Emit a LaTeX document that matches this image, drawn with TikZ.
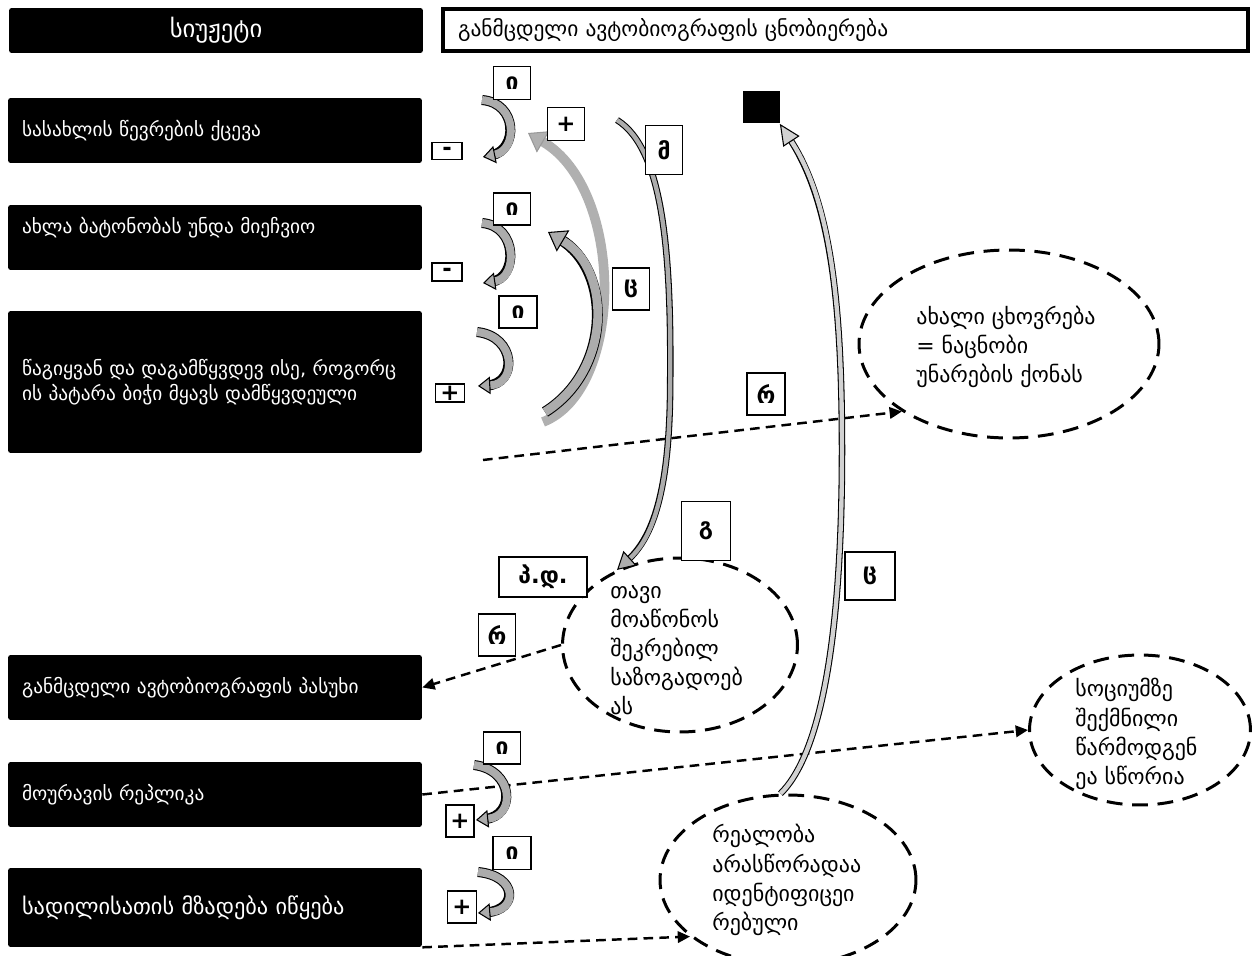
\documentclass[tikz,border=0pt]{standalone}
\usepackage{fontspec}
\setmainfont{DejaVu Sans}
\usetikzlibrary{arrows.meta,shapes.geometric}

\begin{document}
\begin{tikzpicture}[x=0.02cm, y=-0.02cm,
  scene/.style={fill=black, text=white, rounded corners=1.5pt, minimum width=8.28cm, minimum height=1.3cm,
    text width=7.72cm, inner xsep=0.28cm, align=left, font=\fontsize{11}{14.2}\selectfont},
  tag/.style={draw, fill=white, line width=0.9pt, inner sep=0pt, minimum width=0.74cm, minimum height=0.66cm,
    font=\fontsize{13}{13}\selectfont\bfseries},
  cloud/.style={ellipse, draw, line width=1.7pt, dash pattern=on 9pt off 5.5pt, inner sep=0pt},
  cloudtext/.style={inner sep=0pt, align=left, anchor=west, font=\fontsize{12.5}{16.6}\selectfont},
  link/.style={line width=1.4pt, dash pattern=on 5.5pt off 3.5pt, -{Triangle[length=7pt,width=6.5pt]}},
  barrow/.style n args={4}{line cap=butt, draw=#1, line width=#2,
    preaction={draw=black, line width=#2+1.2pt, -, shorten >=#3-2pt},
    -{Triangle[length=#3, width=#4, fill=#1, color=black, line width=0.6pt]}},
  uturn/.style={barrow={gray!65}{4.5pt}{7pt}{10pt}},
]
\useasboundingbox (0,0) rectangle (1259,956);

\node[scene, align=center, minimum height=0.9cm, font=\fontsize{14}{16}\selectfont] (plot) at (216,30.5) {სიუჟეტი};
\node[draw, line width=2.2pt, minimum height=0.84cm, text width=15.5cm, inner xsep=0.3cm, align=left,
  font=\fontsize{12.2}{14}\selectfont] (mind) at (845.5,30) {განმცდელი ავტობიოგრაფის ცნობიერება};

\node[scene] (s1) at (215,130.5) {სასახლის წევრების ქცევა};
\node[scene, text depth=0.5cm] (s2) at (215,237.5) {ახლა ბატონობას უნდა მიეჩვიო};
\node[scene, minimum height=2.84cm] (s3) at (215,382) {წაგიყვან და დაგამწყვდევ ისე, როგორც\\ის პატარა ბიჭი მყავს დამწყვდეული};
\node[scene] (s4) at (215,687.5) {განმცდელი ავტობიოგრაფის პასუხი};
\node[scene] (s5) at (215,794.5) {მოურავის რეპლიკა};
\node[scene, minimum height=1.58cm, font=\fontsize{12.7}{14}\selectfont] (s6) at (215,907.5) {სადილისათის მზადება იწყება};

\node[cloud, minimum width=6cm, minimum height=3.76cm] (e1) at (1009,344) {};
\node[cloudtext] (e1t) at (916,347) {ახალი ცხოვრება\\= ნაცნობი\\უნარების ქონას};
\node[cloud, minimum width=4.7cm, minimum height=3.48cm] (e2) at (680,645) {};
\node[cloudtext] (e2t) at (610,650) {თავი\\მოაწონოს\\შეკრებილ\\საზოგადოებ\\ას};
\node[cloud, minimum width=4.42cm, minimum height=3cm] (e3) at (1140,730) {};
\node[cloudtext] (e3t) at (1075,734) {სოციუმზე\\შექმნილი\\წარმოდგენ\\ეა სწორია};
\node[cloud, minimum width=5.12cm, minimum height=3.4cm] (e4) at (788,880) {};
\node[cloudtext] (e4t) at (712,880) {რეალობა\\არასწორადაა\\იდენტიფიცეი\\რებული};

\coordinate (d1s) at (483,460);
\coordinate (mstart) at (617,120);
\draw[link] (d1s) -- (e1.south west);
\draw[link] (e2.west) -- (s4.east);
\draw[link] (s5.east) -- (e3.west);
\draw[link] (s6.south east) -- (e4.210);

\draw[uturn] (482,100) .. controls (518,103) and (518,150) .. (483,157);
\draw[uturn] (482,223) .. controls (518,226) and (518,278) .. (483,283);
\draw[uturn] (477,332) .. controls (516,336) and (518,384) .. (478,386);
\draw[uturn] (474,765) .. controls (514,770) and (516,816) .. (476,820);
\draw[uturn] (478,872) .. controls (518,876) and (518,910) .. (478,913);

\draw[line cap=butt, line width=5.5pt, draw=gray!62, -{Triangle[length=10pt, width=14pt, fill=gray!62, color=gray!80, line width=0.6pt]}]
  (543,422) .. controls (625,390) and (625,190) .. (528,133);
\draw[barrow={gray!65}{5pt}{10pt}{14pt}] (545,412) .. controls (612,370) and (612,270) .. (548,232);
\draw[barrow={gray!65}{2.5pt}{10pt}{11pt}] (mstart) .. controls (665,150) and (672,260) .. (670,400)
  .. controls (668,500) and (650,540) .. (e2.130);

\node[fill=black, minimum width=0.74cm, minimum height=0.66cm] (blk) at (761,107) {};
\draw[barrow={gray!35}{2.5pt}{12pt}{11pt}] (e4.95) .. controls (835,740) and (842,560) .. (842,450)
  .. controls (842,300) and (830,200) .. (blk.south east);

\node[tag] (i1) at (512,83) {ი};
\node[tag] (p1) at (566,124) {+};
\node[tag, minimum width=0.6cm, minimum height=0.34cm] (n1) at (447,151) {-};
\node[tag, minimum height=0.98cm] (m) at (664,150) {მ};
\node[tag, minimum height=0.64cm] (i2) at (512,209) {ი};
\node[tag, minimum width=0.6cm, minimum height=0.36cm] (n2) at (447,272) {-};
\node[tag, minimum height=0.84cm] (c1) at (631,289) {ც};
\node[tag, minimum width=0.76cm, minimum height=0.64cm] (i3) at (518,312) {ი};
\node[tag, minimum width=0.58cm, minimum height=0.36cm] (p3) at (450,393) {+};
\node[tag, minimum width=0.76cm, minimum height=0.84cm] (r1) at (766,394) {რ};
\node[tag, minimum width=0.98cm, minimum height=1.18cm] (g) at (706,531) {გ};
\node[tag, minimum width=1.76cm, minimum height=0.8cm] (pd) at (543,577) {პ.დ.};
\node[tag, minimum height=0.84cm] (r2) at (497,635) {რ};
\node[tag, minimum width=1cm, minimum height=0.96cm] (c2) at (870,576) {ც};
\node[tag, minimum height=0.64cm] (i4) at (502,748) {ი};
\node[tag, minimum width=0.56cm, minimum height=0.64cm] (p4) at (460,821) {+};
\node[tag, minimum width=0.76cm] (i5) at (512,853) {ი};
\node[tag, minimum width=0.58cm, minimum height=0.64cm] (p5) at (462,907) {+};
\end{tikzpicture}
\end{document}
